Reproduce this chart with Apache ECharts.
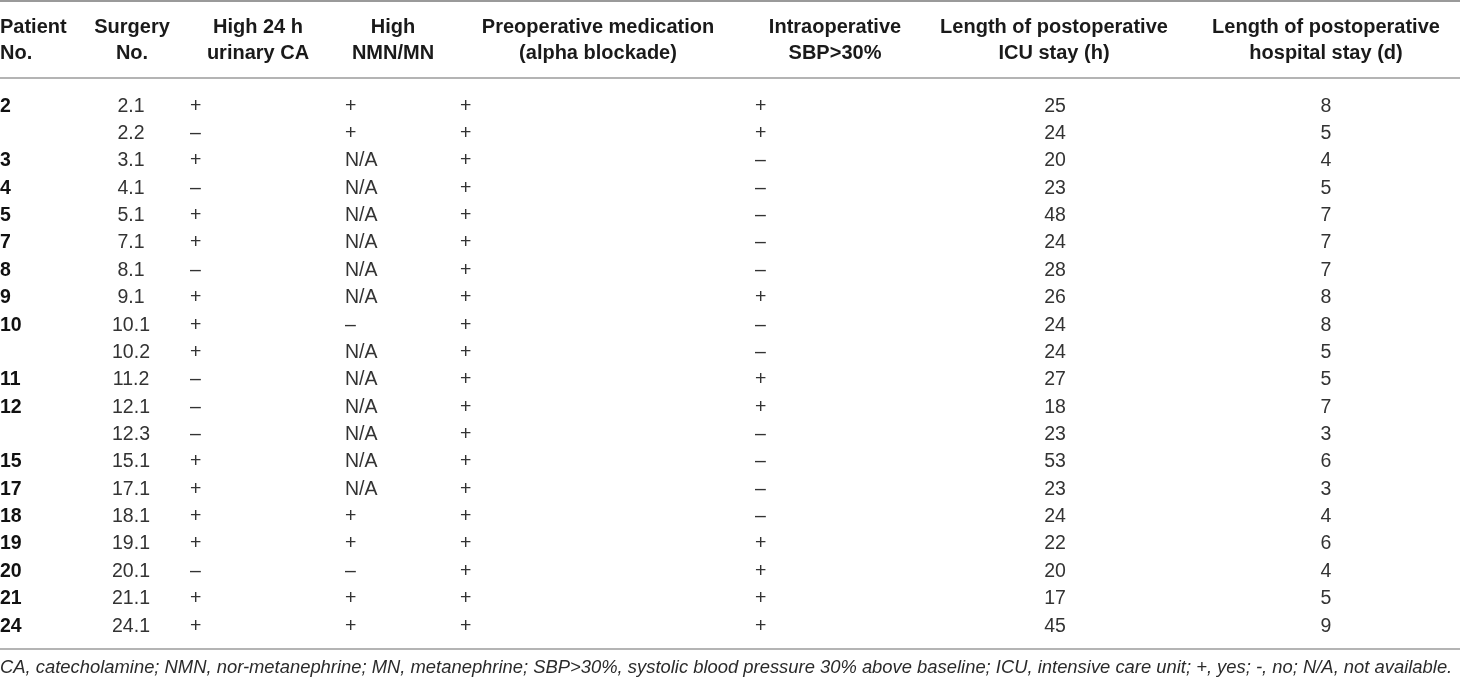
<!DOCTYPE html>
<html>
<head>
<meta charset="utf-8">
<script src="https://cdn.jsdelivr.net/npm/echarts@6/dist/echarts.min.js"></script>
<style>
  html, body { margin: 0; padding: 0; background: #fff; }
  #main { width: 1460px; height: 680px; }
</style>
</head>
<body>
<div id="main"></div>
<script>
// table data, one array per column
const patientNo   = ['2', '', '3', '4', '5', '7', '8', '9', '10', '', '11', '12', '', '15', '17', '18', '19', '20', '21', '24'];
const surgeryNo   = ['2.1', '2.2', '3.1', '4.1', '5.1', '7.1', '8.1', '9.1', '10.1', '10.2', '11.2', '12.1', '12.3', '15.1', '17.1', '18.1', '19.1', '20.1', '21.1', '24.1'];
const urinaryCA   = ['+', '–', '+', '–', '+', '+', '–', '+', '+', '+', '–', '–', '–', '+', '+', '+', '+', '–', '+', '+'];
const nmnMn       = ['+', '+', 'N/A', 'N/A', 'N/A', 'N/A', 'N/A', 'N/A', '–', 'N/A', 'N/A', 'N/A', 'N/A', 'N/A', 'N/A', '+', '+', '–', '+', '+'];
const alphaBlock  = ['+', '+', '+', '+', '+', '+', '+', '+', '+', '+', '+', '+', '+', '+', '+', '+', '+', '+', '+', '+'];
const sbp30       = ['+', '+', '–', '–', '–', '–', '–', '+', '–', '–', '+', '+', '–', '–', '–', '–', '+', '+', '+', '+'];
const icuStay     = [25, 24, 20, 23, 48, 24, 28, 26, 24, 24, 27, 18, 23, 53, 23, 24, 22, 20, 17, 45];
const hospStay    = [8, 5, 4, 5, 7, 7, 7, 8, 8, 5, 5, 7, 3, 6, 3, 4, 6, 4, 5, 9];

const headers = [
  ['Patient', 'No.'],
  ['Surgery', 'No.'],
  ['High 24 h', 'urinary CA'],
  ['High', 'NMN/MN'],
  ['Preoperative medication', '(alpha blockade)'],
  ['Intraoperative', 'SBP>30%'],
  ['Length of postoperative', 'ICU stay (h)'],
  ['Length of postoperative', 'hospital stay (d)']
];
const footnote = 'CA, catecholamine; NMN, nor-metanephrine; MN, metanephrine; SBP>30%, systolic blood pressure 30% above baseline; ICU, intensive care unit; +, yes; -, no; N/A, not available.';

// layout: anchor x and alignment per column
const columns = [
  { values: patientNo,  x: 0,    headX: 0,    headAlign: 'left',   align: 'left',   bold: true },
  { values: surgeryNo,  x: 131,  headX: 132,  headAlign: 'center', align: 'center' },
  { values: urinaryCA,  x: 190,  headX: 258,  headAlign: 'center', align: 'left' },
  { values: nmnMn,      x: 345,  headX: 393,  headAlign: 'center', align: 'left' },
  { values: alphaBlock, x: 460,  headX: 598,  headAlign: 'center', align: 'left' },
  { values: sbp30,      x: 755,  headX: 835,  headAlign: 'center', align: 'left' },
  { values: icuStay,    x: 1055, headX: 1054, headAlign: 'center', align: 'center' },
  { values: hospStay,   x: 1326, headX: 1326, headAlign: 'center', align: 'center' }
];

const FONT = '"Liberation Sans", Arial, Helvetica, sans-serif';
const rowIdx = surgeryNo.map((_, i) => String(i));

const chart = echarts.init(document.getElementById('main'), null, { renderer: 'canvas' });

// scatter default opacity is 0.8, labels inherit it -> force 1
const series = columns.map(col => ({
  type: 'scatter',
  symbolSize: 1,
  itemStyle: { color: 'rgba(0,0,0,0)', opacity: 1 },
  silent: true,
  data: col.values.map((v, i) => ({ value: [col.x, String(i)], text: String(v) })),
  label: {
    show: true,
    position: 'inside',
    align: col.align,
    verticalAlign: 'middle',
    formatter: p => p.data.text,
    fontFamily: FONT,
    fontSize: 19.5,
    fontWeight: col.bold ? 'bold' : 'normal',
    color: col.bold ? '#111' : '#333',
    opacity: 1,
    textBorderWidth: 0
  }
}));

const graphics = [];
// header text
columns.forEach((col, c) => {
  headers[c].forEach((line, k) => {
    graphics.push({
      type: 'text',
      x: col.headX,
      y: 27.5 + k * 26,
      style: {
        text: line,
        font: 'bold 20px ' + FONT,
        fill: '#1a1a1a',
        align: col.headAlign,
        verticalAlign: 'middle'
      }
    });
  });
});
// rules
[[1, '#9a9a9a'], [78, '#b4b4b4'], [649, '#b4b4b4']].forEach(([y, c]) => {
  graphics.push({
    type: 'line',
    shape: { x1: 0, y1: y, x2: 1460, y2: y },
    style: { stroke: c, lineWidth: 2 }
  });
});
// footnote
graphics.push({
  type: 'text',
  x: 0,
  y: 668,
  style: {
    text: footnote,
    font: 'italic 18.4px ' + FONT,
    fill: '#2b2b2b',
    align: 'left',
    verticalAlign: 'middle'
  }
});

chart.setOption({
  backgroundColor: '#fff',
  animation: false,
  grid: { left: 0, right: 0, top: 92.5, height: 547.4 },
  xAxis: {
    type: 'value', min: 0, max: 1460,
    show: false
  },
  yAxis: {
    type: 'category', data: rowIdx, inverse: true,
    show: false
  },
  series: series,
  graphic: graphics
});
</script>
</body>
</html>
